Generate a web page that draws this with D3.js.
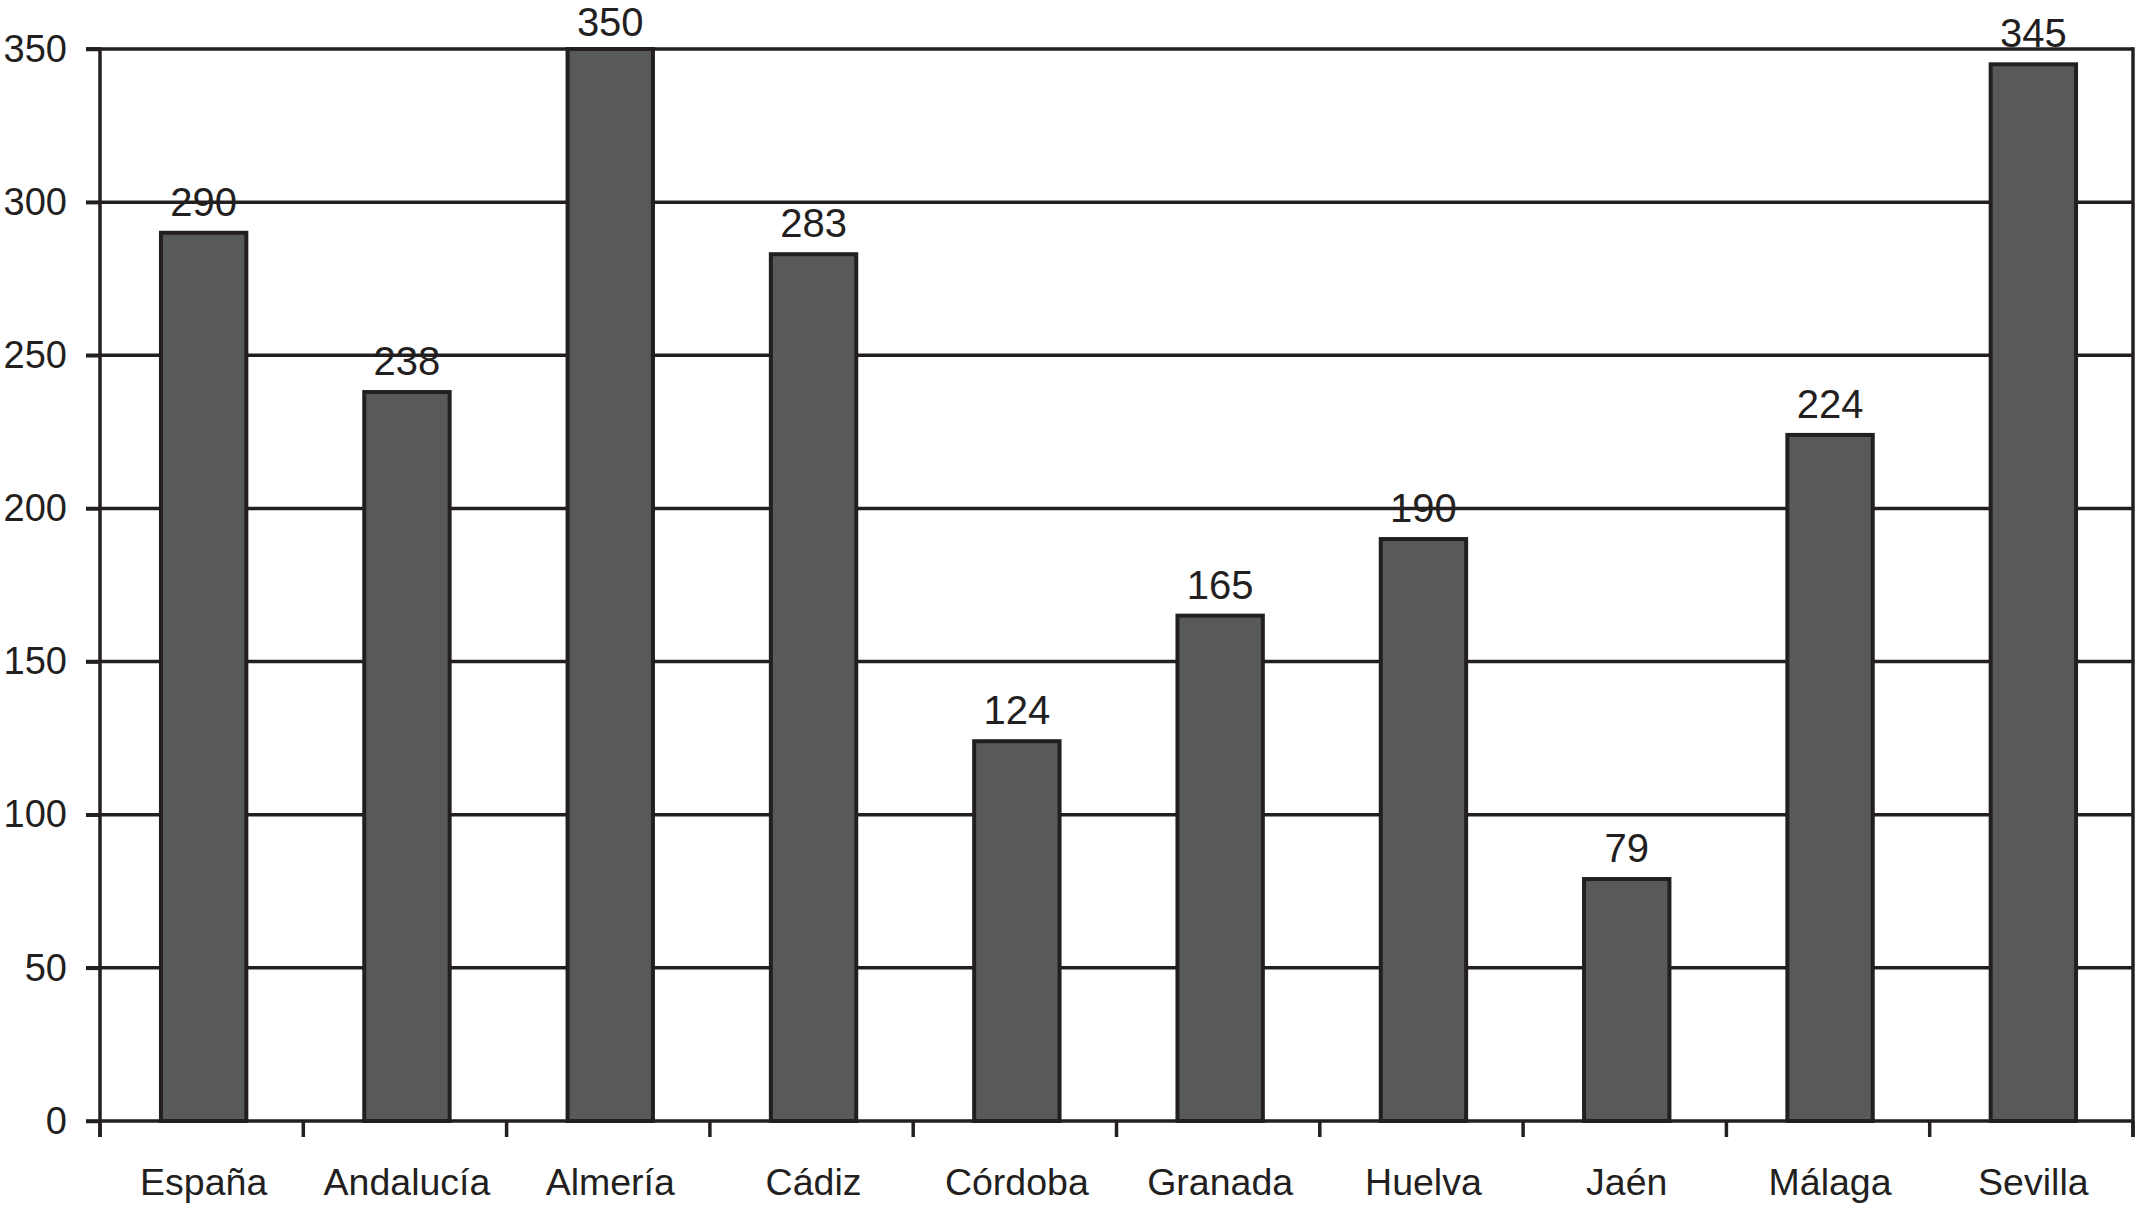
<!DOCTYPE html>
<html>
<head>
<meta charset="utf-8">
<script src="https://cdn.jsdelivr.net/npm/d3@7"></script>
<style>
  html, body { margin: 0; padding: 0; background: #fff; }
  svg { display: block; }
  text { font-family: "Liberation Sans", Arial, Helvetica, sans-serif; fill: #231f20; }
</style>
</head>
<body>
<svg id="chart" width="2137" height="1215"></svg>
<script>
const categories = ["España", "Andalucía", "Almería", "Cádiz", "Córdoba", "Granada", "Huelva", "Jaén", "Málaga", "Sevilla"];
const values = [290, 238, 350, 283, 124, 165, 190, 79, 224, 345];
const yTicks = [0, 50, 100, 150, 200, 250, 300, 350];

(function () {
const plotLeft = 100, plotRight = 2133, plotTop = 49, plotBottom = 1121;
const ink = "#231f20", barFill = "#58595b";

const svg = d3.select("#chart");

const x = d3.scaleBand().domain(categories).range([plotLeft, plotRight]).padding(0);
const y = d3.scaleLinear().domain([0, 350]).range([plotBottom, plotTop]);

// Gridlines
svg.append("g").selectAll("line").data(yTicks.filter(d => d > 0)).join("line")
  .attr("x1", plotLeft - 14).attr("x2", plotRight)
  .attr("y1", d => y(d)).attr("y2", d => y(d))
  .attr("stroke", ink).attr("stroke-width", 3.5);

// Bars
const barW = x.bandwidth() * 0.42;
svg.append("g").selectAll("rect").data(values).join("rect")
  .attr("x", (d, i) => x(categories[i]) + x.bandwidth() / 2 - barW / 2 + 2)
  .attr("y", d => y(d))
  .attr("width", barW)
  .attr("height", d => y(0) - y(d))
  .attr("fill", barFill)
  .attr("stroke", ink)
  .attr("stroke-width", 4);

// Y axis
const yAxis = d3.axisLeft(y).tickValues(yTicks).tickSize(14).tickPadding(19).tickFormat(d3.format("d"));
const gy = svg.append("g").attr("transform", `translate(${plotLeft},0)`).call(yAxis);
gy.select(".domain").attr("stroke", ink).attr("stroke-width", 3.5).attr("d", `M-14,${plotTop}H0V${plotBottom + 16}`);
gy.selectAll(".tick line").attr("stroke", ink).attr("stroke-width", 3.5);
gy.selectAll(".tick text").attr("font-size", 38).attr("fill", ink).style("font-family", "'Liberation Sans', Arial, sans-serif");

// X axis (ticks at band boundaries)
const xAxisLine = svg.append("g");
xAxisLine.append("line").attr("x1", plotLeft - 14).attr("x2", plotRight).attr("y1", plotBottom).attr("y2", plotBottom)
  .attr("stroke", ink).attr("stroke-width", 3.5);
const boundaries = categories.map(c => x(c)).concat([plotRight]);
xAxisLine.selectAll("line.tk").data(boundaries).join("line").attr("class", "tk")
  .attr("x1", d => d).attr("x2", d => d).attr("y1", plotBottom).attr("y2", plotBottom + 16)
  .attr("stroke", ink).attr("stroke-width", 3.5);
// right border
svg.append("line").attr("x1", plotRight).attr("x2", plotRight).attr("y1", plotTop - 1.75).attr("y2", plotBottom + 16)
  .attr("stroke", ink).attr("stroke-width", 3.5);

// Category labels
svg.append("g").selectAll("text").data(categories).join("text")
  .attr("x", d => x(d) + x.bandwidth() / 2 + 2)
  .attr("y", 1195)
  .attr("text-anchor", "middle")
  .attr("font-size", 37.5)
  .text(d => d);

// Value labels
svg.append("g").selectAll("text").data(values).join("text")
  .attr("x", (d, i) => x(categories[i]) + x.bandwidth() / 2 + 2)
  .attr("y", d => Math.max(36, y(d) - 17))
  .attr("text-anchor", "middle")
  .attr("font-size", 40)
  .text(d => d);
})();
</script>
</body>
</html>
